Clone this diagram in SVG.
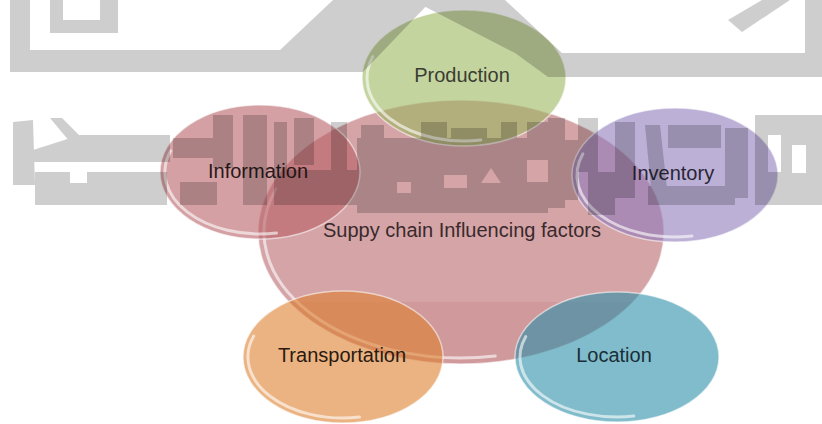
<svg xmlns="http://www.w3.org/2000/svg" width="822" height="424" viewBox="0 0 822 424">
<style>
.lbl{font-family:"Liberation Sans",Arial,sans-serif;font-size:20px;text-anchor:middle}
.sat{fill-opacity:0.6;stroke:#ffffff;stroke-opacity:0.55;stroke-width:1.5}
.hl{fill:none;stroke:#ffffff;stroke-opacity:0.6;stroke-width:3;stroke-linecap:round}
</style>
<defs>
<clipPath id="cclip"><ellipse cx="461" cy="232" rx="203" ry="132"/></clipPath>
<mask id="wmHoles" maskUnits="userSpaceOnUse" x="0" y="0" width="822" height="424">
<rect x="0" y="0" width="822" height="424" fill="#fff"/>
<rect x="70" y="172" width="17" height="11" fill="#000"/>
<rect x="397" y="182" width="14" height="11" fill="#000"/>
<rect x="444" y="175" width="23" height="13" fill="#000"/>
<polygon points="481,183 491,168 501,183" fill="#000"/>
<rect x="527" y="160" width="21" height="22" fill="#000"/>
<rect x="768" y="135" width="13" height="37" fill="#000"/>
<rect x="792" y="145" width="14" height="28" fill="#000"/>
</mask>
</defs>
<rect width="822" height="424" fill="#ffffff"/>

<g id="node-central">
<ellipse cx="461" cy="232" rx="203" ry="132" fill="#d09a9d" stroke="#ffffff" stroke-opacity="0.55" stroke-width="1.5"/>
<rect x="250" y="95" width="420" height="207" fill="#ffffff" fill-opacity="0.1" clip-path="url(#cclip)"/>
<path class="hl" d="M495.2,356.1 A197,126 0 0 1 275.9,188.9"/>
<text class="lbl" x="462" y="237" fill="#3a2a2c">Suppy chain Influencing factors</text>
</g>

<g id="node-production">
<ellipse class="sat" cx="464" cy="78" rx="102" ry="68" fill="#9db75f"/>
<path class="hl" d="M480.8,140 A97,63 0 0 1 372.8,56.5"/>
<text class="lbl" x="462" y="82" fill="#3b3d33">Production</text>
</g>

<g id="node-information">
<ellipse class="sat" cx="260" cy="172" rx="100" ry="67" fill="#b76066"/>
<path class="hl" d="M276.5,233.1 A95,62 0 0 1 170.7,150.8"/>
<text class="lbl" x="258" y="178" fill="#2a1a1b">Information</text>
</g>

<g id="node-inventory">
<ellipse class="sat" cx="675" cy="175" rx="103" ry="67" fill="#8f7bbb"/>
<path class="hl" d="M692,236.1 A98,62 0 0 1 582.9,153.8"/>
<text class="lbl" x="673" y="180" fill="#2a2535">Inventory</text>
</g>

<g id="node-transportation">
<ellipse class="sat" cx="343" cy="357" rx="100" ry="66" fill="#de802f"/>
<path class="hl" d="M359.5,417.1 A95,61 0 0 1 253.7,336.1"/>
<text class="lbl" x="342" y="362" fill="#2a1a10">Transportation</text>
</g>

<g id="node-location">
<ellipse class="sat" cx="617" cy="357" rx="102" ry="65" fill="#2b8fa8"/>
<path class="hl" d="M633.8,416.1 A97,60 0 0 1 525.8,336.5"/>
<text class="lbl" x="614" y="362" fill="#1a2e38">Location</text>
</g>

<g id="watermark" opacity="0.19" fill="#000" mask="url(#wmHoles)">
<rect x="10" y="0" width="20" height="72"/>
<polygon points="10,50 280,50 333,0 432,0 363,72 10,72"/>
<rect x="50" y="0" width="13" height="33"/>
<rect x="100" y="0" width="18" height="33"/>
<rect x="50" y="20" width="68" height="13"/>
<polygon points="412,0 505,0 562,53 822,53 822,77 548,77 515,53"/>
<polygon points="728,20 762,0 790,0 742,32"/>
<rect x="805" y="0" width="17" height="53"/>
<polygon points="13,122 33,120 35,185 13,185"/>
<polygon points="50,118 62,118 82,138 70,142"/>
<polygon points="33,150 80,135 170,135 170,162 33,162"/>
<rect x="35" y="172" width="132" height="33"/>
<rect x="173" y="138" width="55" height="20"/>
<rect x="213" y="115" width="20" height="53"/>
<rect x="243" y="115" width="24" height="90"/>
<rect x="180" y="182" width="37" height="23"/>
<rect x="274" y="122" width="13" height="83"/>
<rect x="294" y="118" width="20" height="47"/>
<rect x="331" y="122" width="16" height="70"/>
<rect x="361" y="125" width="23" height="80"/>
<rect x="287" y="170" width="70" height="35"/>
<rect x="357" y="138" width="191" height="75"/>
<rect x="421" y="122" width="26" height="20"/>
<rect x="451" y="128" width="36" height="14"/>
<rect x="501" y="122" width="16" height="16"/>
<rect x="527" y="122" width="21" height="16"/>
<rect x="548" y="118" width="17" height="90"/>
<rect x="565" y="140" width="13" height="60"/>
<rect x="578" y="118" width="20" height="54"/>
<rect x="588" y="172" width="27" height="43"/>
<rect x="615" y="122" width="20" height="76"/>
<polygon points="645,125 660,125 668,198 652,198"/>
<rect x="668" y="125" width="53" height="23"/>
<rect x="725" y="128" width="23" height="70"/>
<rect x="648" y="186" width="87" height="19"/>
<rect x="755" y="115" width="67" height="90"/>
</g>
</svg>
